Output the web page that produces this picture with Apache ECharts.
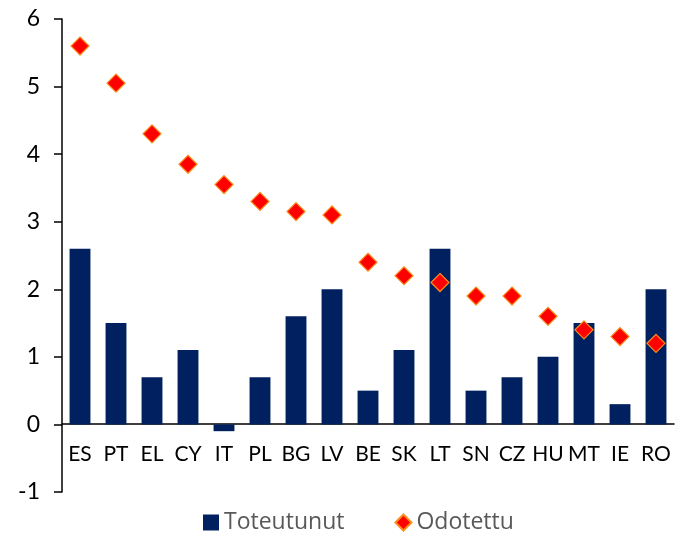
<!DOCTYPE html>
<html>
<head>
<meta charset="utf-8">
<script src="https://cdn.jsdelivr.net/npm/echarts@6/dist/echarts.min.js"></script>
<style>
  html, body { margin: 0; padding: 0; background: #fff; }
  #main { width: 681px; height: 542px; }
</style>
</head>
<body>
<div id="main"></div>
<script>
const categories = ["ES", "PT", "EL", "CY", "IT", "PL", "BG", "LV", "BE", "SK", "LT", "SN", "CZ", "HU", "MT", "IE", "RO"];
const toteutunut = [2.6, 1.5, 0.7, 1.1, -0.1, 0.7, 1.6, 2.0, 0.5, 1.1, 2.6, 0.5, 0.7, 1.0, 1.5, 0.3, 2.0];
const odotettu = [5.6, 5.05, 4.3, 3.85, 3.55, 3.3, 3.15, 3.1, 2.4, 2.2, 2.1, 1.9, 1.9, 1.6, 1.4, 1.3, 1.2];

const chart = echarts.init(document.getElementById("main"));
const font = "Lato, 'Liberation Sans', sans-serif";

chart.setOption({
  animation: false,
  textStyle: { fontFamily: font },
  grid: { left: 62, right: 7, top: 19, bottom: 50 },
  legend: {
    bottom: 3,
    left: 198,
    itemGap: 50,
    itemWidth: 16,
    itemHeight: 16,
    textStyle: { fontSize: 23, color: "#595959", fontFamily: "'Open Sans', sans-serif" },
    data: [
      { name: "Toteutunut", icon: "rect" },
      { name: "Odotettu", icon: "diamond" }
    ]
  },
  xAxis: {
    type: "category",
    data: categories,
    position: "bottom",
    offset: -68,
    axisLine: { onZero: false, lineStyle: { color: "#000", width: 1.5 } },
    axisTick: { show: false },
    axisLabel: { color: "#000", fontSize: 21, margin: 20, interval: 0 }
  },
  yAxis: {
    type: "value",
    min: -1,
    max: 6,
    interval: 1,
    axisLine: { show: true, lineStyle: { color: "#000", width: 1.5 } },
    axisTick: { show: true, length: 8, lineStyle: { color: "#000", width: 1.5 } },
    splitLine: { show: false },
    axisLabel: { color: "#000", fontSize: 23, margin: 22 }
  },
  series: [
    {
      name: "Toteutunut",
      type: "bar",
      data: toteutunut,
      barWidth: "58%",
      itemStyle: { color: "#002060" }
    },
    {
      name: "Odotettu",
      type: "scatter",
      data: odotettu,
      symbol: "diamond",
      symbolSize: 18,
      itemStyle: { color: "#ff0000", borderColor: "#ff8c1a", borderWidth: 1.2, opacity: 1 }
    }
  ]
});
</script>
</body>
</html>
